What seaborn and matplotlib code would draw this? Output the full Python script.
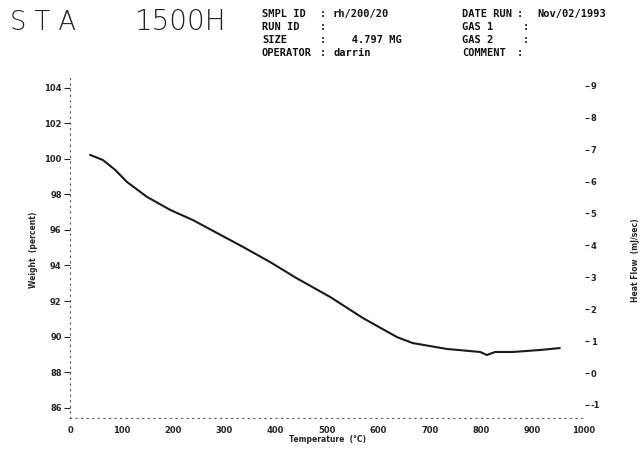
import matplotlib
matplotlib.use("Agg")
import matplotlib.pyplot as plt
import seaborn as sns
import pandas as pd

# weight curve
temperature = [39, 64, 88, 111, 150, 195, 239, 286, 337, 389, 440, 506,
               570, 636, 667, 733, 798, 811, 827, 862, 914, 953]
weight = [100.23, 99.94, 99.38, 98.70, 97.86, 97.13, 96.56, 95.83, 95.04,
          94.20, 93.30, 92.23, 91.04, 89.97, 89.63, 89.30, 89.13, 88.96,
          89.13, 89.13, 89.24, 89.35]

x_ticks = [0, 100, 200, 300, 400, 500, 600, 700, 800, 900, 1000]
weight_ticks = [86, 88, 90, 92, 94, 96, 98, 100, 102, 104]
heat_ticks = [-1, 0, 1, 2, 3, 4, 5, 6, 7, 8, 9]

header_left = [("SMPL ID", "rh/200/20"), ("RUN ID", ""),
               ("SIZE", "   4.797 MG"), ("OPERATOR", "darrin")]
header_right = [("DATE RUN", "Nov/02/1993"), ("GAS 1", ""),
                ("GAS 2", ""), ("COMMENT", "")]

sns.set_style("white")
plt.rcParams['font.family'] = ['DejaVu Sans']

df = pd.DataFrame({"Temperature": temperature, "Weight": weight})

fig = plt.figure(figsize=(6.43, 4.49), dpi=100)
ax = fig.add_axes([0.1089, 0.069, 0.8009, 0.764])
sns.lineplot(data=df, x="Temperature", y="Weight", ax=ax, color="#1a1a1a",
             linewidth=1.5)

ax.set_xlim(0, 1002)
ax.set_ylim(85.41, 104.73)
ax.set_xticks(x_ticks)
ax.set_yticks(weight_ticks)
ax.set_xticklabels([str(t) for t in x_ticks], fontsize=6, fontweight="bold")
ax.set_yticklabels([str(t) for t in weight_ticks], fontsize=6, fontweight="bold")
ax.tick_params(axis="both", direction="out", length=4, width=0.8, color="#222222", pad=2)
ax.set_xlabel("Temperature  (°C)", fontsize=5.5, fontweight="bold", labelpad=0)
ax.set_ylabel("")
for side in ["top", "right"]:
    ax.spines[side].set_visible(False)
for side in ["left", "bottom"]:
    ax.spines[side].set_linestyle((0, (1, 4)))
    ax.spines[side].set_color("#555555")
    ax.spines[side].set_linewidth(0.8)

ax2 = ax.twinx()
ax2.set_ylim(-1.41, 9.34)
ax2.set_yticks(heat_ticks)
ax2.set_yticklabels([str(t) for t in heat_ticks], fontsize=6, fontweight="bold")
ax2.tick_params(axis="y", direction="out", length=3, width=0.8, color="#222222", pad=1)
for side in ["top", "right", "left", "bottom"]:
    ax2.spines[side].set_visible(False)

# axis titles placed as in the scan
fig.text(33 / 643, 1 - 250 / 449, "Weight  (percent)", fontsize=5.5,
         fontweight="bold", rotation=90, ha="center", va="center")
fig.text(636 / 643, 1 - 260 / 449, "Heat Flow  (mJ/sec)", fontsize=5.5,
         fontweight="bold", rotation=90, ha="center", va="center")

# header block
title_kw = dict(fontweight="light", va="center", ha="left", color="#222222")
fig.text(10 / 643, 1 - 22 / 449, "S T A", fontsize=18.5, **title_kw)
fig.text(135 / 643, 1 - 22 / 449, "1500H", fontsize=20, **title_kw)
mono = dict(fontsize=7.5, fontweight="bold", family="DejaVu Sans Mono",
            va="center", ha="left", color="#111111")
rows_y = [14, 27, 40, 53]
for (label, value), yy in zip(header_left, rows_y):
    y = 1 - yy / 449
    fig.text(262 / 643, y, label, **mono)
    fig.text(320 / 643, y, ":", **mono)
    fig.text(333 / 643, y, value, **mono)
for (label, value), yy in zip(header_right, rows_y):
    y = 1 - yy / 449
    fig.text(462 / 643, y, label, **mono)
    fig.text((517 if label in ("DATE RUN", "COMMENT") else 523) / 643, y, ":", **mono)
    fig.text(537 / 643, y, value, **mono)

fig.savefig("out.png", dpi=100)
